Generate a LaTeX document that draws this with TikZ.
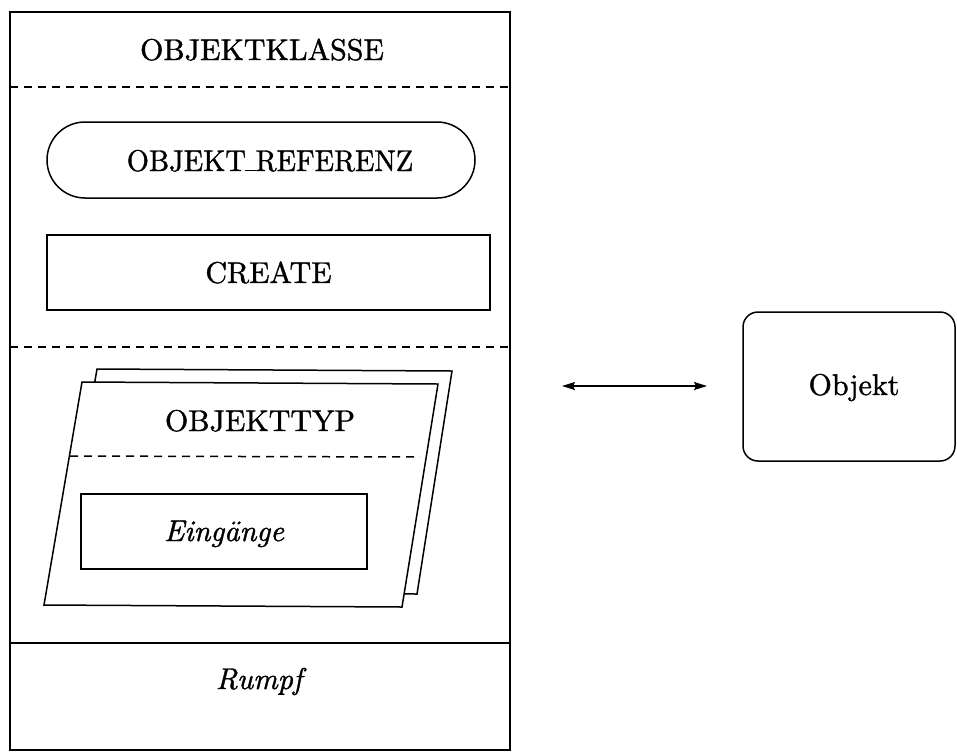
\documentclass[tikz,border=0pt]{standalone}
\usepackage{fontspec}
\setmainfont{lmroman10-regular}[Extension=.otf, FakeBold=1.2,
  ItalicFont=lmroman10-italic, ItalicFeatures={FakeBold=1.2},
  BoldFont=lmroman10-bold]
\usetikzlibrary{arrows.meta}

\begin{document}
\begin{tikzpicture}[x=1pt, y=-1pt, line width=1.5pt,
  >={Stealth[length=13pt, width=8pt, inset=2pt]},
  bigfont/.style={font=\fontsize{30}{36}\selectfont},
  lbl/.style={bigfont, inner sep=0pt, anchor=base},
  boxed/.style={draw, rectangle, inner sep=0pt},
  sepline/.style={dash pattern=on 8pt off 6pt},
  sheet/.style={draw, fill=white, line join=miter}]
\useasboundingbox (0,0) rectangle (957,753);
\fill[white] (0,0) rectangle (957,753);

% class frame
\node[boxed, minimum width=500pt, minimum height=738pt] (klasse) at (260,381) {};
\node[lbl] (klassename) at (262,60) {OBJEKTKLASSE};

% separators of the class frame
\coordinate (s1l) at (10,87);  \coordinate (s1r) at (510,87);
\coordinate (s2l) at (10,347); \coordinate (s2r) at (510,347);
\coordinate (s3l) at (10,643); \coordinate (s3r) at (510,643);
\draw[sepline] (s1l) -- (s1r);
\draw[sepline] (s2l) -- (s2r);
\draw (s3l) -- (s3r);

% reference and create
\node[draw, rounded corners=38pt, minimum width=428pt, minimum height=76pt,
      inner sep=0pt] (ref) at (261,160) {};
\node[lbl] (refname) at (270,171)
      {\scalebox{0.95}[1]{OBJEKT\kern-0.03em\rule{0.4em}{1.5pt}\kern-0.03em REFERENZ}};
\node[boxed, minimum width=443pt, minimum height=75pt, bigfont] (create)
      at (268.5,272.5) {CREATE};

% stacked object type sheets
\coordinate (b1) at (97,369);  \coordinate (b2) at (452,371);
\coordinate (b3) at (417,594); \coordinate (b4) at (59,592);
\coordinate (f1) at (82,382);  \coordinate (f2) at (438,384);
\coordinate (f3) at (402,607); \coordinate (f4) at (44,605);
\path[sheet] (b1) -- (b2) -- (b3) -- (b4) -- cycle;
\path[sheet] (f1) -- (f2) -- (f3) -- (f4) -- cycle;
\node[lbl] (typname) at (260,431) {OBJEKTTYP};
\coordinate (s4l) at (70,456); \coordinate (s4r) at (420,457);
\draw[sepline] (s4l) -- (s4r);
\node[boxed, minimum width=286pt, minimum height=75pt] (eing) at (224,531.5) {};
\node[lbl] (eingname) at (224,541) {\itshape Eing\"ange};

% body
\node[lbl] (rumpf) at (259,689) {\itshape Rumpf};

% object
\node[draw, rounded corners=15pt, minimum width=212pt, minimum height=149pt,
      inner sep=0pt] (obj) at (849,386.5) {};
\node[lbl] (objname) at (854,395) {Objekt};

% relation
\coordinate (pl) at (562,386);
\coordinate (pr) at (707,386);
\draw[<->] (pl) -- (pr);
\end{tikzpicture}
\end{document}
